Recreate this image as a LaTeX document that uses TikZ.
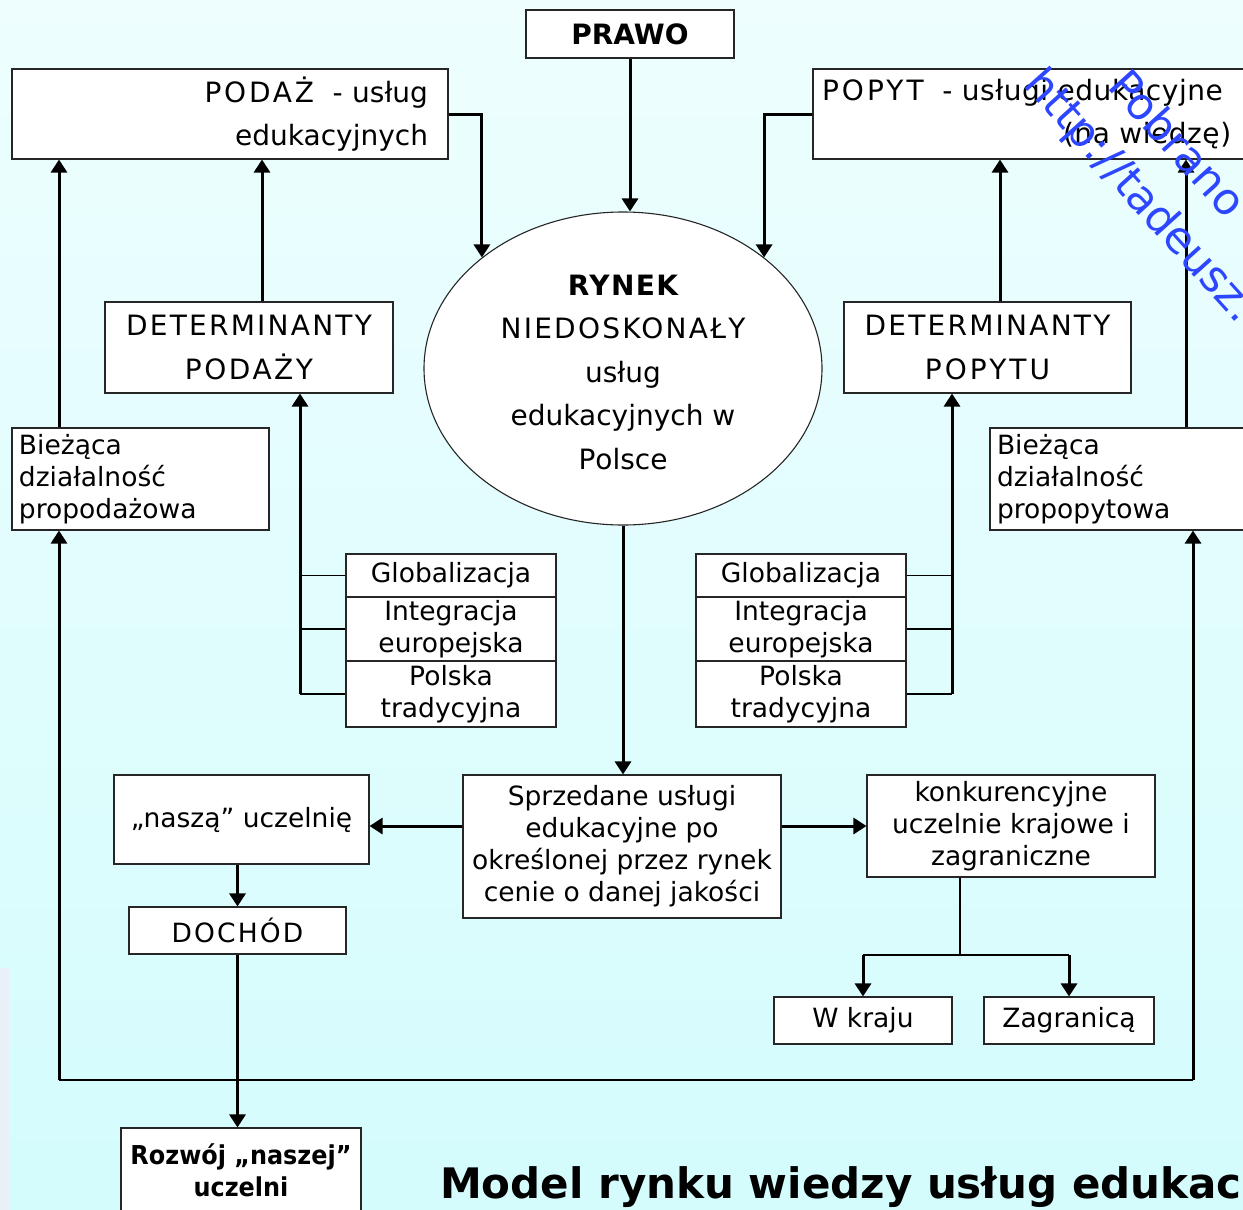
\documentclass[tikz,border=0pt]{standalone}
\usepackage{fontspec}
\setmainfont{DejaVu Sans}
\usetikzlibrary{arrows.meta,shapes.geometric}
\definecolor{bgtop}{RGB}{238,254,254}
\definecolor{bgbot}{RGB}{212,252,253}
\definecolor{stripc}{RGB}{234,240,248}
\definecolor{wmblue}{RGB}{45,70,255}
\newcommand\fsz[3]{\fontsize{#1}{#2}\selectfont\addfontfeatures{LetterSpace=#3}}
\newcommand\csx[2]{{\addfontfeatures{LetterSpace=#1}#2}}
\newcommand\widetxt{\fsz{28}{43.5}{0}}
\begin{document}
\begin{tikzpicture}[x=1pt,y=-1pt,
  box/.style={draw=black!85,line width=1.1pt,fill=white,inner sep=0pt,align=center},
  conn/.style={line width=3pt,-{Triangle[width=16pt,length=13pt]}},
  thinl/.style={line width=1.3pt},
  midl/.style={line width=2pt},
  stk/.style={box,minimum width=210pt,font={\fsz{26.5}{32}{0}}},
  low/.style={box,font={\fsz{26.5}{32}{0}}},
  wm/.style={inner sep=0pt,text=wmblue,font={\fontsize{44}{50}\selectfont},rotate=-48,anchor=base west}]
\clip (0,0) rectangle (1243,1210);
\shade[top color=bgtop,bottom color=bgbot] (0,0) rectangle (1243,1210);
\fill[stripc] (0,968) rectangle (9,1210);

% nodes
\node[box,minimum width=208pt,minimum height=48pt,
  font={\fontsize{28}{30}\selectfont\bfseries}] (prawo) at (630,34) {PRAWO};
\node[box,minimum width=436pt,minimum height=90pt,text width=396pt,inner xsep=20pt,align=right,font=\widetxt]
  (podaz) at (230,114) {\csx{10}{PODAŻ}\ \ - usług\\edukacyjnych};
\node[box,minimum width=460pt,minimum height=90pt,text width=442pt,inner xsep=9pt,align=left,font={\fsz{28}{43.5}{2}}]
  (popyt) at (1043,114) {\csx{11}{POPYT}\ \ - usługi edukacyjne\\\hspace*{241pt}(na wiedzę)};
\node[box,ellipse,minimum width=398pt,minimum height=313pt,font=\widetxt]
  (rynek) at (623,368.5) {\rule{0pt}{28pt}{\bfseries\addfontfeatures{LetterSpace=5}RYNEK}\\\csx{8}{NIEDOSKONAŁY}\\usług\\edukacyjnych w\\\csx{10}{P}olsce};
\node[box,minimum width=288pt,minimum height=91pt,font=\widetxt]
  (detp) at (249,347.5) {\csx{8}{DETERMINANTY}\\\csx{9}{PODAŻY}};
\node[box,minimum width=287pt,minimum height=91pt,font=\widetxt]
  (detq) at (987.5,347.5) {\csx{8}{DETERMINANTY}\\\csx{11}{POPYTU}};
\node[box,minimum width=257pt,minimum height=102pt,text width=243pt,inner xsep=7pt,align=left,font={\fsz{26.5}{32}{0}}]
  (biez1) at (140.5,479) {Bieżąca\\działalność\\propodażowa};
\node[box,minimum width=280pt,minimum height=102pt,text width=266pt,inner xsep=7pt,align=left,font={\fsz{26.5}{32}{0}}]
  (biez2) at (1130,479) {Bieżąca\\działalność\\propopytowa};

\node[stk,minimum height=43pt] (g1) at (451,575.5) {Globalizacja};
\node[stk,minimum height=64pt] (i1) at (451,629) {Integracja\\europejska};
\node[stk,minimum height=66pt] (p1) at (451,694) {Polska\\tradycyjna};
\node[stk,minimum height=43pt] (g2) at (801,575.5) {Globalizacja};
\node[stk,minimum height=64pt] (i2) at (801,629) {Integracja\\europejska};
\node[stk,minimum height=66pt] (p2) at (801,694) {Polska\\tradycyjna};

\node[low,minimum width=318pt,minimum height=143pt] (sprz) at (622,846.5)
  {Sprzedane usługi\\edukacyjne po\\określonej przez rynek\\cenie o danej jakości};
\node[low,minimum width=255pt,minimum height=89pt] (nasza) at (241.5,819.5) {„naszą” uczelnię};
\node[low,minimum width=288pt,minimum height=102pt] (konk) at (1011,826)
  {konkurencyjne\\uczelnie krajowe i\\zagraniczne};
\node[low,minimum width=217pt,minimum height=47pt] (doch) at (237.5,930.5) {\addfontfeatures{LetterSpace=8}DOCHÓD};
\node[low,minimum width=178pt,minimum height=47pt] (wk) at (863,1020.5) {W kraju};
\node[low,minimum width=170pt,minimum height=47pt] (zg) at (1069,1020.5) {Zagranicą};
\node[box,minimum width=240pt,minimum height=84pt,font={\fontsize{26}{32}\selectfont\bfseries\addfontfeatures{FakeStretch=0.92}}]
  (roz) at (241,1170) {Rozwój „naszej”\\uczelni};
\node[anchor=base west,inner sep=0pt,font={\fontsize{42}{50}\selectfont\bfseries}]
  (title) at (440,1198) {Model rynku wiedzy usług edukac};

% helper coordinates
\coordinate (dpx) at (262,0);
\coordinate (dqx) at (1000,0);
\coordinate (rtx) at (1186,0);
\coordinate (lx) at (59,1080);
\coordinate (rx) at (1193,1080);
\coordinate (lbar) at (300,694);
\coordinate (rbar) at (952,694);
\coordinate (split) at (960,955);

% connectors
\draw[conn] (prawo.south) -- (prawo.south |- rynek.north);
\draw[conn] (podaz.east) -| (rynek.north west);
\draw[conn] (popyt.west) -| (rynek.north east);
\draw[conn] (detp.north -| dpx) -- (podaz.south -| dpx);
\draw[conn] (biez1.north -| lx) -- (podaz.south -| lx);
\draw[conn] (detq.north -| dqx) -- (popyt.south -| dqx);
\draw[conn] (biez2.north -| rtx) -- (popyt.south -| rtx);

\draw[conn] (lbar) -- (lbar |- detp.south);
\draw[thinl] (g1.west) -- (g1.west -| lbar);
\draw[thinl] (i1.west) -- (i1.west -| lbar);
\draw[thinl] (p1.west) -- (p1.west -| lbar);
\draw[conn] (rbar) -- (rbar |- detq.south);
\draw[thinl] (g2.east) -- (g2.east -| rbar);
\draw[thinl] (i2.east) -- (i2.east -| rbar);
\draw[thinl] (p2.east) -- (p2.east -| rbar);

\draw[conn] (rynek.south) -- (rynek.south |- sprz.north);
\draw[conn] (sprz.west |- konk.west) -- (nasza.east |- konk.west);
\draw[conn] (sprz.east |- konk.west) -- (konk.west);
\draw[conn] (nasza.south -| doch.north) -- (doch.north);
\draw[conn] (doch.south) -- (doch.south |- roz.north);

\draw[thinl] (split |- konk.south) -- (split);
\draw[thinl] (split -| wk.north) -- (split -| zg.north);
\draw[conn] (split -| wk.north) -- (wk.north);
\draw[conn] (split -| zg.north) -- (zg.north);

\draw[midl] (lx) -- (rx);
\draw[conn] (lx) -- (lx |- biez1.south);
\draw[conn] (rx) -- (rx |- biez2.south);

% watermark
\node[wm] (wm1) at (1022,85) {http://tadeusz.};
\node[wm] (wm2) at (1106,87) {Pobrano};
\end{tikzpicture}
\end{document}
